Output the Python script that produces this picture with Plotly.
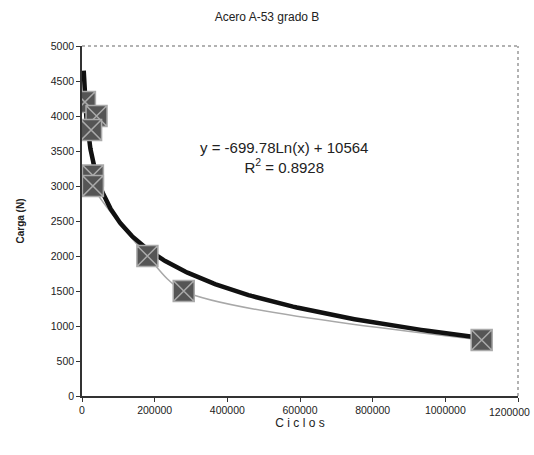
import numpy as np
import plotly.graph_objects as go

# Data (in plotted order)
ciclos = [8000, 40000, 25000, 30000, 30000, 180000, 280000, 1100000]
carga = [4200, 4000, 3800, 3150, 3000, 2000, 1500, 800]

# Logarithmic trendline shown on chart: y = a*Ln(x) + b
trend_a = -699.78
trend_b = 10564
trend_x_start = 4700
trend_x_end = 1100000

x_ticks = [0, 200000, 400000, 600000, 800000, 1000000, 1200000]
y_ticks = [0, 500, 1000, 1500, 2000, 2500, 3000, 3500, 4000, 4500, 5000]

tx = np.geomspace(trend_x_start, trend_x_end, 300)
ty = trend_a * np.log(tx) + trend_b

fig = go.Figure()
fig.add_trace(go.Scatter(x=ciclos, y=carga, mode="lines",
                         line=dict(color="#a8a8a8", width=1.5, shape="spline", smoothing=0.8),
                         hoverinfo="skip"))
fig.add_trace(go.Scatter(x=tx, y=ty, mode="lines", line=dict(color="#111111", width=4.5)))
fig.add_trace(go.Scatter(x=ciclos, y=carga, mode="markers",
                         marker=dict(symbol="square-x", size=21, color="#555555",
                                     line=dict(color="#aaaaaa", width=1.5))))

fig.update_layout(
    width=534, height=455,
    paper_bgcolor="white", plot_bgcolor="white",
    margin=dict(l=82, r=16, t=46, b=59),
    showlegend=False,
    font=dict(family="Liberation Sans, Arial", size=10.5, color="#222"),
    title=dict(text="Acero A-53 grado B", x=0.5, xanchor="center", y=0.963, yanchor="middle",
               font=dict(size=12, color="#222", family="Liberation Sans, Arial")),
    xaxis=dict(range=[0, 1200000], tickvals=x_ticks,
               ticktext=[str(v) for v in x_ticks[:-1]] + [""],
               showgrid=False, zeroline=False, showline=True, linecolor="#333", linewidth=1.5,
               ticks="outside", ticklen=4, tickcolor="#333", mirror=False,
               title=dict(text="C i c l o s", font=dict(size=12), standoff=3)),
    yaxis=dict(range=[0, 5000], tickvals=y_ticks, ticktext=[str(v) for v in y_ticks],
               showgrid=False, zeroline=False, showline=True, linecolor="#333", linewidth=1.5,
               ticks="outside", ticklen=4, tickcolor="#333",
               title=dict(text="<b>Carga (N)</b>", font=dict(size=10), standoff=24)),
)
# last x tick label, kept inside the page
fig.add_annotation(x=x_ticks[-1], y=0, xref="x", yref="paper", yanchor="top", xanchor="center",
                   xshift=-9, yshift=-8, showarrow=False, text=str(x_ticks[-1]),
                   font=dict(size=10.5, color="#222"))
# dotted top/right border
fig.add_shape(type="line", xref="paper", yref="paper", x0=0, x1=1, y0=1, y1=1,
              line=dict(color="#999", width=1.5, dash="dot"))
fig.add_shape(type="line", xref="paper", yref="paper", x0=1, x1=1, y0=0, y1=1,
              line=dict(color="#999", width=1.5, dash="dot"))

fig.add_annotation(x=0.463, y=0.682, xref="paper", yref="paper", showarrow=False,
                   xanchor="center", yanchor="middle",
                   text="y = -699.78Ln(x) + 10564<br>R<sup>2</sup> = 0.8928",
                   font=dict(size=15, color="#222"), align="center")

fig.write_html("out.html", post_script="document.body.style.margin='0';",
               config={"displayModeBar": False})
